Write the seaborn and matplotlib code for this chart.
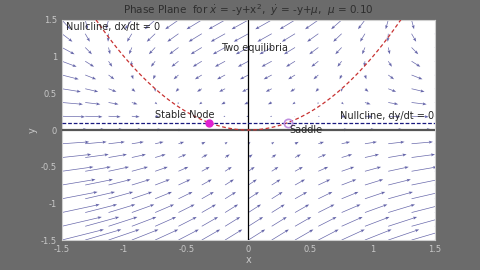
import numpy as np
import pandas as pd
import matplotlib
matplotlib.use("Agg")
import matplotlib.pyplot as plt
import seaborn as sns

# --- data ---
mu = 0.10
grid_x = np.linspace(-1.5, 1.5, 17)
grid_y = np.linspace(-1.5, 1.5, 17)
nullcline_x = np.linspace(-1.5, 1.5, 121)
eq_labels = ["Stable Node", "Saddle"]
eq_x = [-np.sqrt(mu), np.sqrt(mu)]
eq_y = [mu, mu]
x_ticks = [-1.5, -1, -0.5, 0, 0.5, 1, 1.5]
y_ticks = [-1.5, -1, -0.5, 0, 0.5, 1, 1.5]

sns.set_style("white")
plt.rcParams['font.family'] = ['DejaVu Sans']

fig = plt.figure(figsize=(4.8, 2.7), dpi=100)
fig.patch.set_facecolor("#6b6b6b")
ax = fig.add_axes([0.129, 0.111, 0.777, 0.815])
ax.set_facecolor("white")

# vector field
X, Y = np.meshgrid(grid_x, grid_y)
U = -Y + X**2
V = -Y + mu
ax.quiver(X, Y, U, V, angles="xy", scale_units="xy", scale=1/0.09,
          color="#4a4a9a", alpha=0.85, width=0.0018, headwidth=4.5, headlength=6,
          headaxislength=5, zorder=2)

# axes lines
ax.axvline(0, color="black", lw=0.9, zorder=3)
ax.axhline(0, color="#555555", lw=1.6, zorder=3)

# nullclines
df_x = pd.DataFrame({"x": nullcline_x, "y": nullcline_x**2})
sns.lineplot(data=df_x, x="x", y="y", ax=ax, color="#c83232",
             linestyle=(0, (3, 2)), lw=0.9, zorder=4)
df_y = pd.DataFrame({"x": [-1.5, 1.5], "y": [mu, mu]})
sns.lineplot(data=df_y, x="x", y="y", ax=ax, color="#1a1a80",
             linestyle=(0, (3, 1.5)), lw=0.9, zorder=4)

# equilibria
ax.plot(eq_x[0], eq_y[0], "o", ms=5, color="#e020d0", zorder=5)
ax.plot(eq_x[1], eq_y[1], "o", ms=6, mfc="none", mec="#c090e0", mew=1.2, zorder=5)

ax.text(-0.75, 0.14, eq_labels[0], fontsize=7, ha="left", va="bottom", zorder=6)
ax.text(0.33, 0.07, eq_labels[1], fontsize=7, ha="left", va="top", zorder=6)
ax.text(-1.47, 1.47, "Nullcline, dx/dt = 0", fontsize=7, ha="left", va="top", zorder=6)
ax.text(1.49, 0.12, "Nullcline, dy/dt = 0", fontsize=7, ha="right", va="bottom", zorder=6)
ax.text(-0.22, 1.05, "Two equilibria", fontsize=7, ha="left", va="bottom", zorder=6)

ax.set_xlim(-1.5, 1.5)
ax.set_ylim(-1.5, 1.5)
ax.set_xticks(x_ticks)
ax.set_yticks(y_ticks)
ax.set_xticklabels([str(t) for t in x_ticks])
ax.set_yticklabels([str(t) for t in y_ticks])
ax.tick_params(axis="both", labelsize=6, colors="#c8c8c8", direction="in",
               length=3, labelcolor="#c8c8c8")
for s in ax.spines.values():
    s.set_color("#cfcfcf")
    s.set_linewidth(0.8)
ax.set_xlabel("x", fontsize=7, color="#c8c8c8", labelpad=1)
ax.set_ylabel("y", fontsize=7, color="#c8c8c8", labelpad=2)
ax.set_title("Phase Plane  for $\\dot{x}$ = -y+x$^2$,  $\\dot{y}$ = -y+$\\mu$,  $\\mu$ = 0.10",
             fontsize=7.5, color="#2e2e2e", pad=4)

fig.savefig("out.png", dpi=100, facecolor=fig.get_facecolor())
